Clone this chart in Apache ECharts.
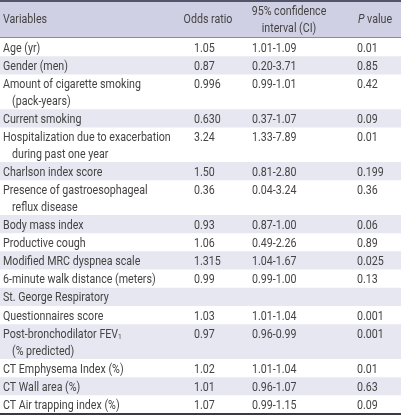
<!DOCTYPE html>
<html><head><meta charset="utf-8">
<script src="https://cdn.jsdelivr.net/npm/echarts@6/dist/echarts.min.js"></script>
<style>html,body{margin:0;padding:0;background:#fff}#c{width:401px;height:415px}</style>
</head><body><div id="c"></div>
<script>
const headers = ["Variables", "Odds ratio", "95% confidence\ninterval (CI)", "P value"];
const variables = [
  "Age (yr)", "Gender (men)", "Amount of cigarette smoking\n(pack-years)", "Current smoking",
  "Hospitalization due to exacerbation\nduring past one year", "Charlson index score",
  "Presence of gastroesophageal\nreflux disease", "Body mass index", "Productive cough",
  "Modified MRC dyspnea scale", "6-minute walk distance (meters)", "St. George Respiratory",
  "Questionnaires score", "Post-bronchodilator FEV1\n(% predicted)", "CT Emphysema Index (%)",
  "CT Wall area (%)", "CT Air trapping index (%)"
];
const oddsRatio = ["1.05","0.87","0.996","0.630","3.24","1.50","0.36","0.93","1.06","1.315","0.99","","1.03","0.97","1.02","1.01","1.07"];
const confInterval = ["1.01-1.09","0.20-3.71","0.99-1.01","0.37-1.07","1.33-7.89","0.81-2.80","0.04-3.24","0.87-1.00","0.49-2.26","1.04-1.67","0.99-1.00","","1.01-1.04","0.96-0.99","1.01-1.04","0.96-1.07","0.99-1.15"];
const pValue = ["0.01","0.85","0.42","0.09","0.01","0.199","0.36","0.06","0.89","0.025","0.13","","0.001","0.001","0.01","0.63","0.09"];

const FONT = 'Roboto, "Liberation Sans", sans-serif';
const FS = 13;
const SX = 0.82;
const TXT = '#444444';
const HEADER_UNITS = 2.09;
const rowUnits = variables.map(v => v.split('\n').length === 1 ? 1 : 1.9);
const bodyData = [];
let acc = HEADER_UNITS;
rowUnits.forEach((u, i) => { bodyData.push([i, acc, acc + u]); acc += u; });
const TOTAL = acc;

function txt(x, y, s, align, extra, rich) {
  const style = Object.assign({ x: 0, y: 0, text: s, fill: TXT, font: FS + 'px ' + FONT, align: align || 'left', verticalAlign: 'middle' }, extra || {});
  if (rich) style.rich = rich;
  return { type: 'text', x: x, y: y, scaleX: SX, style: style };
}

const chart = echarts.init(document.getElementById('c'), null, { renderer: 'canvas' });
chart.setOption({
  animation: false,
  grid: { left: 0, right: 0, top: 0, bottom: 1.4 },
  xAxis: { type: 'value', min: 0, max: 401, show: false },
  yAxis: { type: 'value', min: 0, max: TOTAL, inverse: true, show: false },
  series: [
    {
      type: 'custom', coordinateSystem: 'cartesian2d', silent: true,
      data: [[0, 0, HEADER_UNITS]],
      renderItem: function (params, api) {
        const p0 = api.coord([0, api.value(1)]);
        const p1 = api.coord([401, api.value(2)]);
        const cy = (p0[1] + p1[1]) / 2 + 1;
        const X = v => api.coord([v, 0])[0];
        const ch = [
          { type: 'rect', shape: { x: p0[0], y: p0[1], width: p1[0] - p0[0], height: p1[1] - p0[1] }, style: { fill: '#d0d0e4' } },
          { type: 'rect', shape: { x: p0[0], y: p0[1], width: p1[0] - p0[0], height: 2 }, style: { fill: '#55556a' } },
          { type: 'rect', shape: { x: p0[0], y: p1[1] - 1, width: p1[0] - p0[0], height: 1 }, style: { fill: '#8c8c9c' } },
          txt(X(3), cy, headers[0]),
          txt(X(208), cy, headers[1], 'center'),
          txt(X(289), cy, headers[2], 'center', { lineHeight: 17 }),
          txt(X(375), cy, '{i|P} value', 'center', null, { i: { fontStyle: 'italic', fontFamily: FONT, fontSize: FS, fill: TXT } })
        ];
        return { type: 'group', children: ch };
      }
    },
    {
      type: 'custom', coordinateSystem: 'cartesian2d', silent: true,
      data: bodyData,
      renderItem: function (params, api) {
        const i = api.value(0);
        const p0 = api.coord([0, api.value(1)]);
        const p1 = api.coord([401, api.value(2)]);
        const X = v => api.coord([v, 0])[0];
        const ch = [];
        if (i % 2 === 1) {
          ch.push({ type: 'rect', shape: { x: p0[0], y: p0[1], width: p1[0] - p0[0], height: p1[1] - p0[1] }, style: { fill: '#e7e7f1' } });
        }
        const lines = variables[i].split('\n');
        const h = p1[1] - p0[1];
        const firstY = (lines.length === 1 ? p0[1] + h / 2 : p0[1] + h / 2 - 8.5) + 1.3;
        lines.forEach((ln, k) => {
          const y = firstY + k * 17;
          const x = X(k === 0 ? 3 : 12);
          if (ln.indexOf('FEV1') >= 0) {
            ch.push(txt(x, y, ln.replace('FEV1', 'FEV{s|1}'), 'left', null,
              { s: { fontSize: 8, fontFamily: FONT, fill: TXT, padding: [5, 0, 0, 0] } }));
          } else {
            ch.push(txt(x, y, ln));
          }
        });
        ch.push(txt(X(194), firstY, oddsRatio[i]));
        ch.push(txt(X(252), firstY, confInterval[i]));
        ch.push(txt(X(357), firstY, pValue[i]));
        if (i === variables.length - 1) {
          ch.push({ type: 'rect', shape: { x: p0[0], y: p1[1] - 0.6, width: p1[0] - p0[0], height: 2 }, style: { fill: '#3a3a44' } });
        }
        return { type: 'group', children: ch };
      }
    }
  ]
});
</script></body></html>
